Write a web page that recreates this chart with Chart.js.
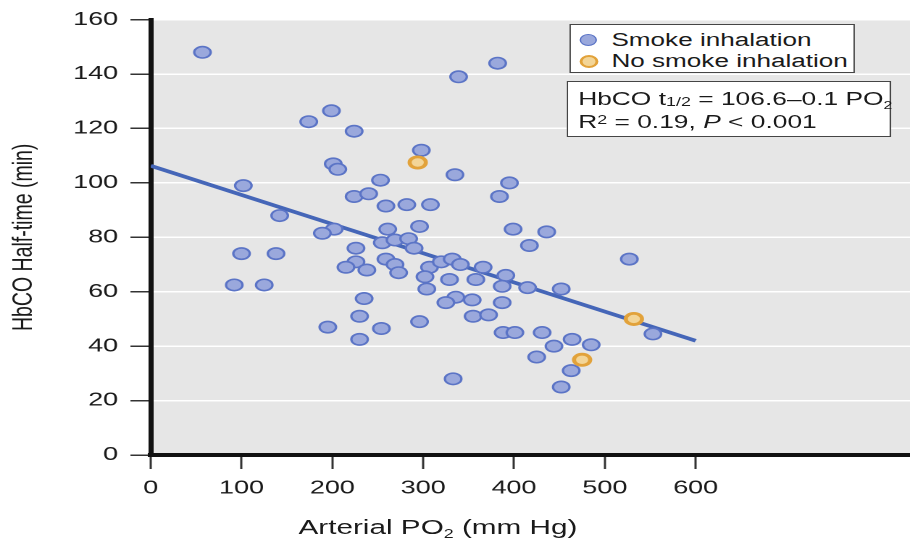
<!DOCTYPE html>
<html>
<head>
<meta charset="utf-8">
<title>HbCO half-time vs arterial PO2</title>
<script src="https://cdn.jsdelivr.net/npm/chart.js@4.4.1/dist/chart.umd.min.js"></script>
<style>
    html, body { margin: 0; padding: 0; background: #fff; overflow: hidden; }
    /* the original figure is stretched sideways, so the whole stage is too */
    #stage {
        position: absolute; left: 0; top: 0;
        width: 628px; height: 538px;
        transform: scaleX(1.449); transform-origin: 0 0;
        font-family: "Liberation Sans", Arial, Helvetica, sans-serif;
        color: #1a1a1a;
    }
    #chart { position: absolute; left: 0; top: 0; }
    .box { position: absolute; background: #fff; border: 1.5px solid #454545; box-sizing: border-box; }
    .row { position: absolute; height: 22px; line-height: 22px; font-size: 18px; white-space: nowrap; }
    .dot { position: absolute; width: 10px; height: 10px; border-radius: 50%; }
    .sub { font-size: 0.68em; vertical-align: -0.12em; }
    sub { font-size: 0.6em; vertical-align: -0.35em; line-height: 0; }
    sup { font-size: 0.68em; vertical-align: 0.35em; line-height: 0; }
    #xtitle { position: absolute; left: 206px; top: 515px; height: 24px; line-height: 24px; font-size: 20.5px; white-space: nowrap; }
</style>
</head>
<body>
<div id="stage">
    <canvas id="chart" width="628" height="538"></canvas>

    <div class="box" style="left:393px; top:24px; width:197px; height:49px;">
        <div class="dot" style="left:6px; top:9px; background:#9aa8dc; border:1.6px solid #5b74c6;"></div>
        <div class="row" style="left:28px; top:4px;">Smoke inhalation</div>
        <div class="dot" style="left:6px; top:30px; background:#f3d597; border:2.6px solid #e2a23a; width:9px; height:9px;"></div>
        <div class="row" style="left:28px; top:25px;">No smoke inhalation</div>
    </div>

    <div class="box" style="left:391px; top:81px; width:224px; height:56px;">
        <div class="row" style="left:7px; top:6px; font-size:18.2px;">HbCO t<span class="sub">1/2</span> = 106.6–0.1 PO<sub>2</sub></div>
        <div class="row" style="left:7px; top:29px; font-size:18.2px;">R<sup>2</sup> = 0.19, <i>P</i> &lt; 0.001</div>
    </div>

    <div id="xtitle">Arterial PO<sub>2</sub> (mm Hg)</div>
</div>

<script>
"use strict";

// smoke inhalation group (arterial PO2 mm Hg, HbCO half-time min)
const smokePO2 = [57, 339, 382, 199, 174, 224, 298, 201, 206, 335,
    102, 253, 395, 384, 224, 240, 259, 282, 308, 142,
    202, 189, 261, 296, 399, 436, 417, 255, 269, 284,
    290, 226, 226, 215, 259, 238, 269, 307, 320, 332,
    341, 366, 100, 138, 92, 125, 235, 230, 195, 230,
    254, 527, 273, 302, 329, 358, 391, 387, 415, 452,
    304, 336, 354, 325, 387, 355, 372, 296, 388, 401,
    431, 464, 485, 444, 425, 463, 452, 333, 553];
const smokeHalfTime = [148, 139, 144, 126.5, 122.5, 119, 112, 107, 105, 103,
    99, 101, 100, 95, 95, 96, 91.5, 92, 92, 88,
    83, 81.5, 83, 84, 83, 82, 77, 78, 79, 79.5,
    76, 76, 71, 69, 72, 68, 70, 69, 71, 72,
    70, 69, 74, 74, 62.5, 62.5, 57.5, 51, 47, 42.5,
    46.5, 72, 67, 65.5, 64.5, 64.5, 66, 62, 61.5, 61,
    61, 58, 57, 56, 56, 51, 51.5, 49, 45, 45,
    45, 42.5, 40.5, 40, 36, 31, 25, 28, 44.5];

// no smoke inhalation group
const noSmokePO2 = [294, 475, 532];
const noSmokeHalfTime = [107.5, 35, 50];

// fitted line as drawn
const fitPO2 = [0, 600];
const fitHalfTime = [106.3, 42];

const xTicks = [0, 100, 200, 300, 400, 500, 600];
const yTicks = [0, 20, 40, 60, 80, 100, 120, 140, 160];

function toPoints(xs, ys) {
    return xs.map(function (x, i) { return { x: x, y: ys[i] }; });
}

const fontFamily = '"Liberation Sans", Arial, Helvetica, sans-serif';
Chart.defaults.font.family = fontFamily;
Chart.defaults.color = '#1a1a1a';

// grey panel behind the data
const panelBg = {
    id: 'panelBg',
    beforeDraw(chart) {
        const a = chart.chartArea;
        const c = chart.ctx;
        c.save();
        c.fillStyle = '#e6e6e6';
        c.fillRect(a.left, a.top, a.right - a.left, a.bottom - a.top);
        c.restore();
    }
};

new Chart(document.getElementById('chart'), {
    type: 'scatter',
    data: {
        datasets: [{
            label: 'Smoke inhalation',
            data: toPoints(smokePO2, smokeHalfTime),
            backgroundColor: '#9aa8dc',
            borderColor: '#5b74c6',
            borderWidth: 1.6,
            pointRadius: 5.7,
            order: 2
        }, {
            label: 'No smoke inhalation',
            data: toPoints(noSmokePO2, noSmokeHalfTime),
            backgroundColor: '#f3d597',
            borderColor: '#e2a23a',
            borderWidth: 2.8,
            pointRadius: 5.6,
            order: 1
        }, {
            label: 'fit',
            data: toPoints(fitPO2, fitHalfTime),
            showLine: true,
            borderColor: '#4566b8',
            borderWidth: 3.6,
            pointRadius: 0,
            order: 3
        }]
    },
    options: {
        responsive: false,
        devicePixelRatio: 2,
        animation: false,
        events: [],
        layout: { autoPadding: false, padding: { top: 19, right: 0, bottom: 0, left: 0 } },
        plugins: {
            legend: { display: false },
            tooltip: { enabled: false }
        },
        scales: {
            x: {
                type: 'linear',
                min: 0,
                max: 836,
                afterBuildTicks: function (s) { s.ticks = xTicks.map(function (v) { return { value: v }; }); },
                afterFit: function (s) {
                    s.height = 83;
                    s.paddingLeft = 0;
                    s.paddingRight = 0;
                },
                grid: { drawOnChartArea: false, tickLength: 14, tickColor: '#333', tickWidth: 1.5 },
                border: { color: '#111', width: 4 },
                ticks: { font: { size: 18.6 }, padding: 8, maxRotation: 0, autoSkip: false },
                title: { display: false }
            },
            y: {
                min: 0,
                max: 160,
                afterBuildTicks: function (s) { s.ticks = yTicks.map(function (v) { return { value: v }; }); },
                afterFit: function (s) { s.width = 104; },
                grid: { color: '#ffffff', lineWidth: 1.5, tickLength: 14, tickColor: '#333', tickWidth: 1.5 },
                border: { color: '#111', width: 3.5 },
                ticks: { font: { size: 18.6 }, padding: 8.5 },
                title: {
                    display: true,
                    text: 'HbCO Half-time (min)',
                    font: { size: 19.5 },
                    padding: { top: 5, bottom: 0 }
                }
            }
        }
    },
    plugins: [panelBg]
});
</script>
</body>
</html>
